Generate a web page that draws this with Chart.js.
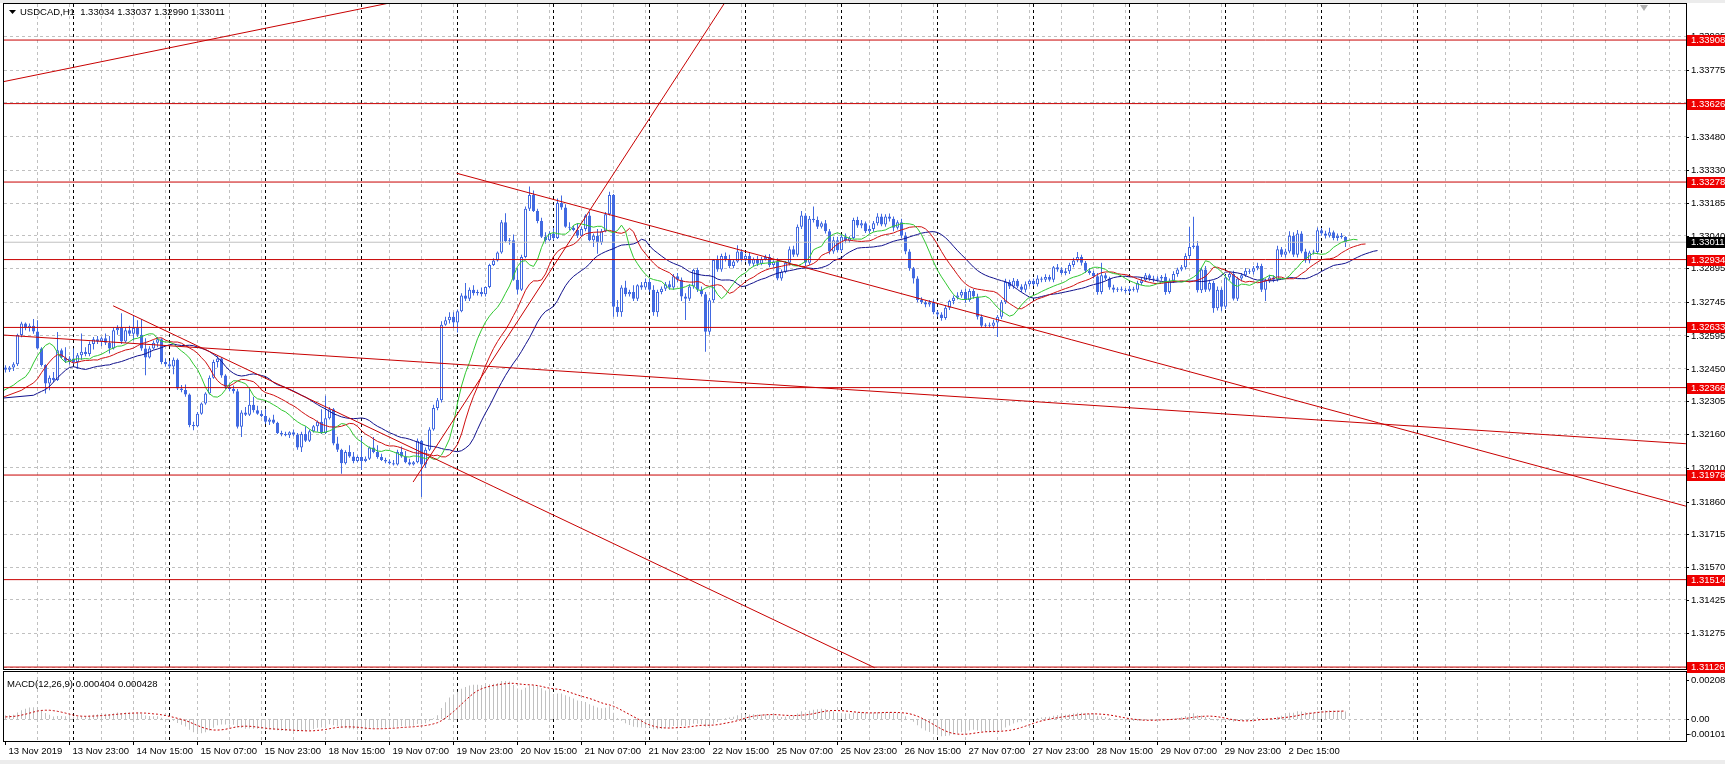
<!DOCTYPE html>
<html>
<head>
<meta charset="utf-8">
<script src="https://cdn.jsdelivr.net/npm/chart.js@4.4.1/dist/chart.umd.min.js"></script>
<style>
  html, body { margin: 0; padding: 0; background: #fff; }
  canvas { display: block; }
</style>
</head>
<body>
<canvas id="chart" width="1725" height="764"></canvas>
<script>
// USDCAD H1 candles, values in points (0.00001) above BASE, one row per trading day
const BASE = 1.3;
const firstOpen = 2455;
const closes = [
  2445,2455,2470,2599,2650,2630,2640,2615,2540,2466,2384,2410,2400,2532,2500,2485,2495,
  2480,2510,2525,2515,2560,2580,2570,2585,2565,2540,2620,2630,2570,2620,2605,2630,2600,2540,2500,2540,2565,2580,2480,2470,
  2460,2490,2362,2355,2335,2200,2195,2250,2295,2340,2410,2480,2495,2420,2370,2360,2350,2192,2255,2245,2290,2265,2250,2240,
  2215,2225,2210,2165,2160,2155,2168,2158,2100,2160,2130,2172,2195,2215,2165,2230,2270,2118,2090,2030,2080,2060,2040,2058,
  2040,2050,2100,2080,2058,2045,2038,2030,2025,2080,2060,2035,2025,2035,2130,2025,2090,2180,2275,2310,2645,2665,2680,2655,
  2705,2775,2760,2800,2785,2790,2780,2812,2910,2930,2965,3100,3015,3020,2845,2800,2945,3160,3220,3150,3105,3035,3020,3050,
  3030,3185,3165,3080,3075,3065,3040,3070,3130,3020,3040,3010,3060,3135,3220,2725,2700,2810,2780,2790,2760,2820,2810,2835,
  2800,2700,2790,2805,2825,2810,2860,2845,2770,2760,2815,2888,2800,2780,2614,2754,2932,2890,2950,2935,2905,2925,2970,2935,
  2950,2915,2935,2915,2935,2945,2910,2925,2850,2880,2920,2980,2955,3080,3130,2920,3115,3110,3080,3095,3060,2970,3020,2975,
  3035,3018,3030,3110,3085,3095,3060,3070,3095,3125,3090,3125,3115,3075,3100,3040,2970,2895,2850,2755,2745,2735,2745,2700,
  2690,2675,2720,2750,2765,2775,2790,2755,2795,2770,2680,2640,2645,2640,2655,2680,2745,2835,2815,2840,2815,2800,2825,2840,
  2825,2850,2845,2857,2845,2900,2890,2875,2882,2910,2930,2945,2920,2885,2875,2860,2790,2865,2850,2810,2800,2805,2800,2795,
  2805,2800,2830,2842,2865,2850,2845,2850,2858,2790,2840,2870,2890,2900,2950,2990,2996,2798,2890,2800,2830,2718,2800,2725,
  2855,2870,2760,2850,2865,2885,2880,2895,2905,2800,2840,2855,2845,2980,2955,2970,3040,2955,3050,2970,2930,2965,2968,3064,
  3050,3040,3055,3030,3040,3034,3011
];
// upper / lower shadow lengths, points
const upWick = [
  10,7,8,6,8,5,10,30,50,5,4,10,25,81,8,45,10,
  45,10,81,20,10,10,15,7,21,30,10,13,66,10,20,57,35,70,45,10,10,10,5,15,
  15,10,5,15,25,5,15,8,5,5,10,10,10,5,5,15,15,10,10,25,72,35,20,15,
  30,7,20,5,10,10,4,12,7,10,35,8,5,5,55,100,10,5,30,5,8,30,20,7,
  89,10,5,47,30,15,10,10,15,10,25,25,15,5,10,5,10,10,15,10,15,15,20,20,
  7,10,55,10,20,10,20,3,5,10,5,10,40,10,25,50,10,10,38,20,10,15,20,10,
  25,20,33,15,20,10,30,10,5,15,10,30,10,10,15,5,30,10,30,10,30,5,15,15,
  15,20,10,10,10,15,10,15,10,15,10,5,10,15,10,10,5,20,10,15,20,10,28,10,
  10,15,8,15,12,10,14,6,15,10,8,12,15,10,20,10,12,54,15,8,15,10,15,15,
  12,15,8,10,14,15,8,15,10,15,12,10,14,10,8,15,15,10,6,10,12,8,10,12,
  8,10,12,6,10,14,10,15,10,8,12,10,6,10,12,8,10,14,10,12,8,10,12,6,
  10,15,8,12,10,6,14,10,15,10,12,23,10,8,12,10,14,55,10,8,12,6,10,8,
  12,8,10,14,10,6,12,10,8,14,10,12,8,10,12,89,128,20,10,15,15,10,15,10,
  12,10,14,8,10,12,8,10,15,10,10,12,8,15,10,12,20,15,15,10,12,8,10,12,
  10,12,20,8,10,12,3
];
const dnWick = [
  12,10,15,8,10,10,15,10,5,6,44,30,10,5,5,10,17,
  10,32,20,10,10,25,10,20,10,23,5,20,10,5,10,30,10,10,79,5,5,20,10,10,
  10,35,7,10,10,10,18,5,5,5,5,5,25,10,10,10,10,7,45,5,5,10,5,5,
  10,15,5,5,10,5,13,8,10,20,5,5,5,25,5,5,5,8,10,46,5,5,10,5,
  40,5,5,5,8,5,8,5,5,5,5,5,5,5,5,144,15,5,5,10,10,5,15,20,
  45,5,10,10,10,10,10,10,5,5,5,5,5,15,5,20,5,5,10,5,10,5,15,5,
  10,5,10,5,10,5,10,5,10,5,30,50,10,5,5,45,20,20,10,10,10,10,10,10,
  10,15,20,10,10,10,10,10,20,94,10,10,10,10,89,14,10,10,10,10,10,10,5,10,
  10,8,12,10,6,5,10,12,8,10,7,12,10,8,10,15,10,12,10,8,10,12,10,8,
  8,12,10,6,10,12,8,10,12,10,8,10,12,15,8,10,12,10,22,10,8,12,10,8,
  10,12,8,10,14,8,10,12,8,10,12,10,8,10,12,64,10,8,12,10,8,10,12,10,
  8,10,12,10,8,12,10,8,10,12,10,8,12,10,8,10,12,10,8,10,12,10,8,10,
  10,8,12,10,8,10,12,8,10,12,8,10,12,8,10,12,8,10,12,10,8,20,10,20,
  10,12,8,10,12,8,10,12,8,10,50,10,12,8,10,12,8,10,12,8,10,12,8,10,
  10,12,8,10,12,8,21
];

// time axis: a label every 16 bars, day separators
const timeLabels = ['13 Nov 2019','13 Nov 23:00','14 Nov 15:00','15 Nov 07:00','15 Nov 23:00','18 Nov 15:00',
  '19 Nov 07:00','19 Nov 23:00','20 Nov 15:00','21 Nov 07:00','21 Nov 23:00','22 Nov 15:00','25 Nov 07:00',
  '25 Nov 23:00','26 Nov 15:00','27 Nov 07:00','27 Nov 23:00','28 Nov 15:00','29 Nov 07:00','29 Nov 23:00','2 Dec 15:00'];
const dayStarts = [17,41,65,89,113,137,161,185,209,233,257,281,305,329,353];

// price scale
const priceTicks = [1.31125,1.31275,1.31425,1.3157,1.31715,1.3186,1.3201,1.3216,1.32305,1.3245,1.32595,
  1.32745,1.32895,1.3304,1.33185,1.3333,1.3348,1.3363,1.33775,1.33925];
const hLevels = [1.33908,1.33626,1.33278,1.32934,1.32633,1.32366,1.31978,1.31514,1.31126];
const lastPrice = 1.33011;
// trend lines: [bar1, price1, bar2, price2]
const trendLines = [
  [-0.375, 1.33724, 100, 1.34087],
  [101.9, 1.31947, 181, 1.34106],
  [26.9, 1.32729, 217.3, 1.31123],
  [-0.375, 1.32599, 420.1, 1.32117],
  [112.8, 1.33317, 420.1, 1.31840]
];

// indicator state before the first visible bar
const jawSeed = 1.32332, teethSeed = 1.32354, lipsSeed = 1.32377;
const jawLeft = 1.3232, teethLeft = 1.32325, lipsLeft = 1.32354;
const ema12Seed = 1.3242, ema26Seed = 1.3240, signalSeed = 0.0001;
const macdLabels = [['0.002085', 0.002085], ['0.00', 0], ['-0.00101', -0.00101]];

// layout (pixels)
const L = 4, R = 1686, MAIN_TOP = 4, MAIN_BOT = 669, MACD_TOP = 671, MACD_BOT = 741;
const X_MIN = -0.375, X_MAX = X_MIN + (R - L) / 4;
const Y_TOP = 1.34068, Y_BOT = 1.30798;
const M_TOP = 0.038226, M_BOT = -0.001176;

const BLUE = '#4169E1', GRID = '#c0c0c0', LINE_RED = '#c80000', BOX_RED = '#ee0000';
const FONT = '9.5px "Liberation Sans", Arial, sans-serif';

const bars = closes.map((c, i) => {
  const o = i === 0 ? firstOpen : closes[i - 1];
  return {
    o: BASE + o / 1e5,
    c: BASE + c / 1e5,
    h: BASE + (Math.max(o, c) + upWick[i]) / 1e5,
    l: BASE + (Math.min(o, c) - dnWick[i]) / 1e5
  };
});

// Alligator (SMMA of median price, shifted forward)
function smma(src, n, seed) { let s = seed; return src.map(v => (s = (s * (n - 1) + v) / n)); }
const median = bars.map(b => (b.h + b.l) / 2);
function shifted(vals, shift, seed, left) {
  const pts = [{ x: X_MIN, y: left }, { x: shift - 1, y: seed }];
  vals.forEach((v, i) => pts.push({ x: i + shift, y: v }));
  return pts;
}
const jaw = shifted(smma(median, 13, jawSeed), 8, jawSeed, jawLeft);
const teeth = shifted(smma(median, 8, teethSeed), 5, teethSeed, teethLeft);
const lips = shifted(smma(median, 5, lipsSeed), 3, lipsSeed, lipsLeft);

// MACD 12,26,9
function ema(src, n, seed) { const k = 2 / (n + 1); let e = seed; return src.map(v => (e = e + k * (v - e))); }
const cl = bars.map(b => b.c);
const e12 = ema(cl, 12, ema12Seed), e26 = ema(cl, 26, ema26Seed);
const macd = e12.map((v, i) => v - e26[i]);
const signal = macd.map((v, i) => {
  let s = 0;
  for (let k = i - 8; k <= i; k++) s += k < 0 ? signalSeed : macd[k];
  return s / 9;
});

const mainClip = { left: 0, top: 0, right: 0, bottom: -(MACD_BOT - MAIN_BOT) };
const macdClip = { left: 0, top: -(MACD_TOP - MAIN_TOP), right: 0, bottom: 0 };

function lineSet(data, color, order, extra) {
  return Object.assign({
    type: 'line', data, borderColor: color, borderWidth: 1, pointRadius: 0,
    tension: 0, fill: false, order, yAxisID: 'y', clip: mainClip
  }, extra || {});
}

const datasets = [];
hLevels.forEach(v => datasets.push(lineSet([{ x: X_MIN, y: v }, { x: X_MAX, y: v }], LINE_RED, 2)));
trendLines.forEach(t => datasets.push(lineSet([{ x: t[0], y: t[1] }, { x: t[2], y: t[3] }], LINE_RED, 3)));
datasets.push(lineSet([{ x: X_MIN, y: lastPrice }, { x: X_MAX, y: lastPrice }], GRID, 25));
datasets.push(lineSet(jaw, '#10108c', 12));
datasets.push(lineSet(teeth, '#d01010', 11));
datasets.push(lineSet(lips, '#30c830', 10));
datasets.push({
  type: 'bar', order: 31, yAxisID: 'y', clip: mainClip, grouped: false,
  data: bars.map((b, i) => ({ x: i, y: [b.l, b.h] })),
  backgroundColor: BLUE, barThickness: 1, inflateAmount: 0, borderWidth: 0
});
datasets.push({
  type: 'bar', order: 30, yAxisID: 'y', clip: mainClip, grouped: false,
  data: bars.map((b, i) => ({ x: i, y: [b.o, b.c] })),
  backgroundColor: bars.map(b => (b.c >= b.o ? '#ffffff' : BLUE)),
  borderColor: BLUE, borderWidth: 1, borderSkipped: false, barThickness: 3,
  minBarLength: 1, inflateAmount: 0
});
datasets.push({
  type: 'bar', order: 41, yAxisID: 'ym', clip: macdClip, grouped: false,
  data: macd.map((v, i) => ({ x: i, y: v })),
  backgroundColor: GRID, barThickness: 1, inflateAmount: 0, borderWidth: 0
});
datasets.push(lineSet(signal.map((v, i) => ({ x: i, y: v })), '#c80000', 40,
  { yAxisID: 'ym', clip: macdClip, borderDash: [2, 2] }));

const snap = v => Math.floor(v) + 0.5;

const mt4Frame = {
  id: 'mt4Frame',
  beforeDraw(chart) {
    const ctx = chart.ctx;
    ctx.save();
    ctx.fillStyle = '#fff';
    ctx.fillRect(0, 0, 1725, 764);
    ctx.fillStyle = '#ececec';
    ctx.fillRect(0, 0, 1725, 3);
    ctx.fillRect(0, 760, 1725, 4);
    ctx.restore();
  },
  beforeDatasetsDraw(chart) {
    const { ctx, scales: { x, y, ym } } = chart;
    const vline = b => {
      const px = snap(x.getPixelForValue(b));
      ctx.moveTo(px, MAIN_TOP); ctx.lineTo(px, MAIN_BOT);
      ctx.moveTo(px, MACD_TOP); ctx.lineTo(px, MACD_BOT);
    };
    ctx.save();
    ctx.lineWidth = 1;
    ctx.setLineDash([3, 3]);
    ctx.strokeStyle = GRID;
    ctx.beginPath();
    priceTicks.forEach(v => {
      const py = snap(y.getPixelForValue(v));
      ctx.moveTo(L, py); ctx.lineTo(R, py);
    });
    const z = snap(ym.getPixelForValue(0));
    ctx.moveTo(L, z); ctx.lineTo(R, z);
    for (let b = 8; b < X_MAX; b += 8) vline(b);
    ctx.stroke();
    ctx.strokeStyle = '#000';
    ctx.beginPath();
    dayStarts.forEach(vline);
    ctx.stroke();
    ctx.restore();
  },
  afterDatasetsDraw(chart) {
    const { ctx, scales: { x, y, ym } } = chart;
    ctx.save();
    // pane frames
    ctx.fillStyle = '#fff';
    ctx.fillRect(L, MAIN_BOT + 1, R - L, MACD_TOP - MAIN_BOT - 1);
    ctx.strokeStyle = '#000';
    ctx.lineWidth = 1;
    ctx.strokeRect(3.5, 3.5, R - 3, MAIN_BOT - 3);
    ctx.strokeRect(3.5, MACD_TOP + 0.5, R - 3, MACD_BOT - MACD_TOP);

    ctx.font = FONT;
    ctx.textBaseline = 'middle';
    ctx.fillStyle = '#000';
    ctx.beginPath();
    // price scale
    priceTicks.forEach(v => {
      const py = Math.round(y.getPixelForValue(v));
      ctx.moveTo(R, py + 0.5); ctx.lineTo(R + 3, py + 0.5);
      ctx.fillText(v.toFixed(5), R + 5, py + 0.5);
    });
    // MACD scale
    macdLabels.forEach(([t, v]) => {
      const py = Math.min(Math.round(ym.getPixelForValue(v)), MACD_BOT - 7);
      ctx.moveTo(R, py + 0.5); ctx.lineTo(R + 3, py + 0.5);
      ctx.fillText(t, t[0] === '-' ? R + 2 : R + 5, py + 0.5);
    });
    // time scale
    timeLabels.forEach((t, k) => {
      const px = snap(x.getPixelForValue(k * 16));
      ctx.moveTo(px, MACD_BOT); ctx.lineTo(px, MACD_BOT + 4);
      ctx.fillText(t, px + 3, 751);
    });
    ctx.stroke();

    // level labels
    const box = (v, bg) => {
      const py = Math.round(y.getPixelForValue(v));
      ctx.fillStyle = bg;
      ctx.fillRect(R + 1, py - 5, 1725 - R - 1, 11);
      ctx.fillStyle = '#fff';
      ctx.fillText(v.toFixed(5), R + 5, py + 0.5);
    };
    hLevels.forEach(v => box(v, BOX_RED));
    box(lastPrice, '#000');

    // header texts
    ctx.fillStyle = '#000';
    ctx.beginPath();
    ctx.moveTo(9, 10); ctx.lineTo(16, 10); ctx.lineTo(12.5, 14); ctx.closePath();
    ctx.fill();
    ctx.fillText('USDCAD,H1  1.33034 1.33037 1.32990 1.33011', 20, 12.5);
    ctx.fillText('MACD(12,26,9) 0.000404 0.000428', 7, 684);
    // chart shift marker
    ctx.fillStyle = '#b0b0b0';
    ctx.beginPath();
    ctx.moveTo(1640, 5); ctx.lineTo(1648, 5); ctx.lineTo(1644, 11); ctx.closePath();
    ctx.fill();
    ctx.restore();
  }
};

Chart.defaults.font.family = '"Liberation Sans", Arial, sans-serif';
new Chart(document.getElementById('chart'), {
  type: 'bar',
  data: { datasets },
  options: {
    responsive: false,
    animation: false,
    devicePixelRatio: 1,
    events: [],
    layout: { padding: { left: L, top: MAIN_TOP, right: 1725 - R, bottom: 764 - MACD_BOT } },
    plugins: { legend: { display: false }, tooltip: { enabled: false } },
    scales: {
      x: { type: 'linear', min: X_MIN, max: X_MAX, offset: false, display: false },
      y: { type: 'linear', axis: 'y', min: Y_BOT, max: Y_TOP, beginAtZero: false, display: false },
      ym: { type: 'linear', axis: 'y', min: M_BOT, max: M_TOP, beginAtZero: false, display: false }
    }
  },
  plugins: [mt4Frame]
});
</script>
</body>
</html>
